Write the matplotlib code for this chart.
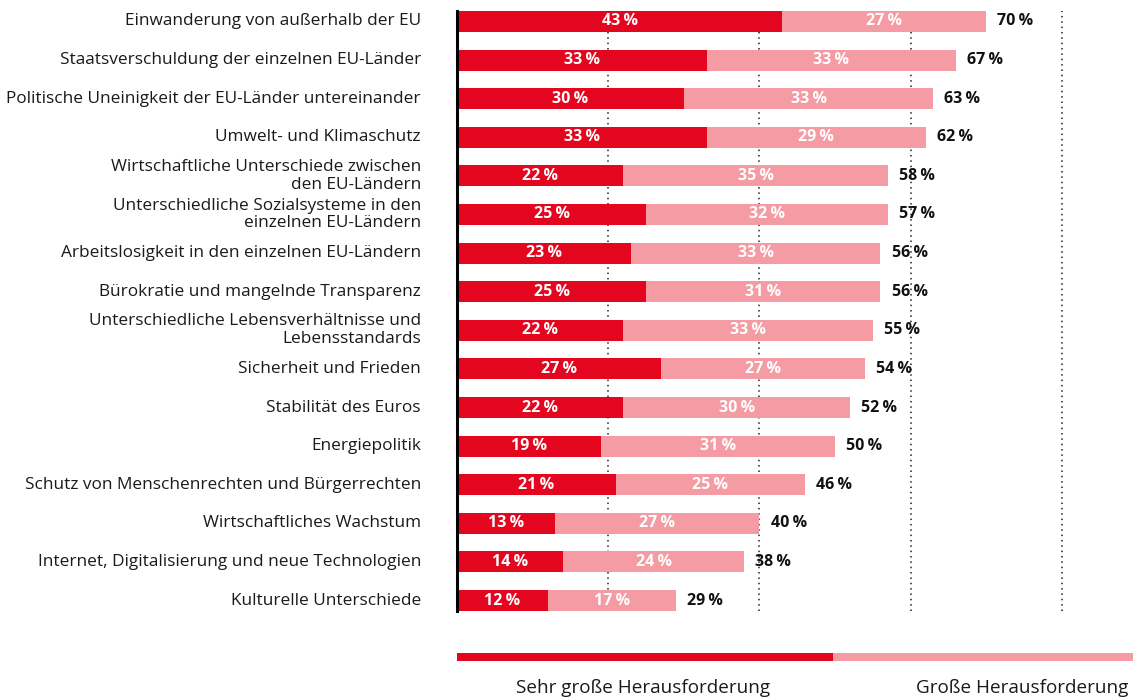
import matplotlib
matplotlib.use("Agg")
import matplotlib.pyplot as plt

plt.rcParams['font.family'] = ['Open Sans', 'DejaVu Sans']

# categories, top to bottom
categories = [
    "Einwanderung von außerhalb der EU",
    "Staatsverschuldung der einzelnen EU-Länder",
    "Politische Uneinigkeit der EU-Länder untereinander",
    "Umwelt- und Klimaschutz",
    "Wirtschaftliche Unterschiede zwischen\nden EU-Ländern",
    "Unterschiedliche Sozialsysteme in den\neinzelnen EU-Ländern",
    "Arbeitslosigkeit in den einzelnen EU-Ländern",
    "Bürokratie und mangelnde Transparenz",
    "Unterschiedliche Lebensverhältnisse und\nLebensstandards",
    "Sicherheit und Frieden",
    "Stabilität des Euros",
    "Energiepolitik",
    "Schutz von Menschenrechten und Bürgerrechten",
    "Wirtschaftliches Wachstum",
    "Internet, Digitalisierung und neue Technologien",
    "Kulturelle Unterschiede",
]
sehr_gross = [43, 33, 30, 33, 22, 25, 23, 25, 22, 27, 22, 19, 21, 13, 14, 12]
gross = [27, 33, 33, 29, 35, 32, 33, 31, 33, 27, 30, 31, 25, 27, 24, 17]
totals = [70, 67, 63, 62, 58, 57, 56, 56, 55, 54, 52, 50, 46, 40, 38, 29]
legend_labels = ["Sehr große Herausforderung", "Große Herausforderung"]

RED = "#E3061E"
PINK = "#F49BA3"

fig = plt.figure(figsize=(11.33, 7.0), dpi=100)
ax = fig.add_axes([457 / 1133, 1 - 611 / 700, 1 - 457 / 1133, 600 / 700])

y = list(range(len(categories)))
h = 0.544
ax.barh(y, sehr_gross, height=h, color=RED, zorder=2)
ax.barh(y, gross, left=sehr_gross, height=h, color=PINK, zorder=2)

for i in y:
    ax.text(sehr_gross[i] / 2, i, f"{sehr_gross[i]}\u2009%", color="white",
            fontsize=11.5, fontweight="bold", ha="center", va="center", zorder=3)
    ax.text(sehr_gross[i] + gross[i] / 2, i, f"{gross[i]}\u2009%", color="white",
            fontsize=11.5, fontweight="bold", ha="center", va="center", zorder=3)
    ax.annotate(f"{totals[i]}\u2009%", (sehr_gross[i] + gross[i], i),
                xytext=(8, 0), textcoords="offset points", ha="left", va="center",
                fontsize=11.5, fontweight="bold", color="#111111")
    ax.annotate(categories[i], (0, i), xytext=(-26, 0), textcoords="offset points",
                ha="right", va="center", fontsize=12.4, color="#1a1a1a",
                linespacing=1.15)

for gx in [20, 40, 60, 80]:
    ax.axvline(gx, color="#222222", lw=1.1, ls=(0, (1, 2.5)), zorder=1)

ax.set_xlim(0, 89.4)
ax.set_ylim(len(categories) - 1 + h / 2, -h / 2)
for s in ["top", "right", "bottom"]:
    ax.spines[s].set_visible(False)
ax.spines["left"].set_linewidth(2.2)
ax.spines["left"].set_color("black")
ax.set_xticks([])
ax.set_yticks([])

# legend strip
lax = fig.add_axes([457 / 1133, 1 - 661 / 700, 1 - 457 / 1133, 8 / 700])
lax.barh(0, 49.7, height=1, color=RED)
lax.barh(0, 89.4 - 49.7, left=49.7, height=1, color=PINK)
lax.set_xlim(0, 89.4)
lax.set_ylim(-0.5, 0.5)
lax.axis("off")
fig.text(643 / 1133, 1 - 688 / 700, legend_labels[0], ha="center", va="center",
         fontsize=13.6, color="#1a1a1a")
fig.text(1128 / 1133, 1 - 688 / 700, legend_labels[1], ha="right", va="center",
         fontsize=13.6, color="#1a1a1a")

fig.savefig("out.png", dpi=100)
